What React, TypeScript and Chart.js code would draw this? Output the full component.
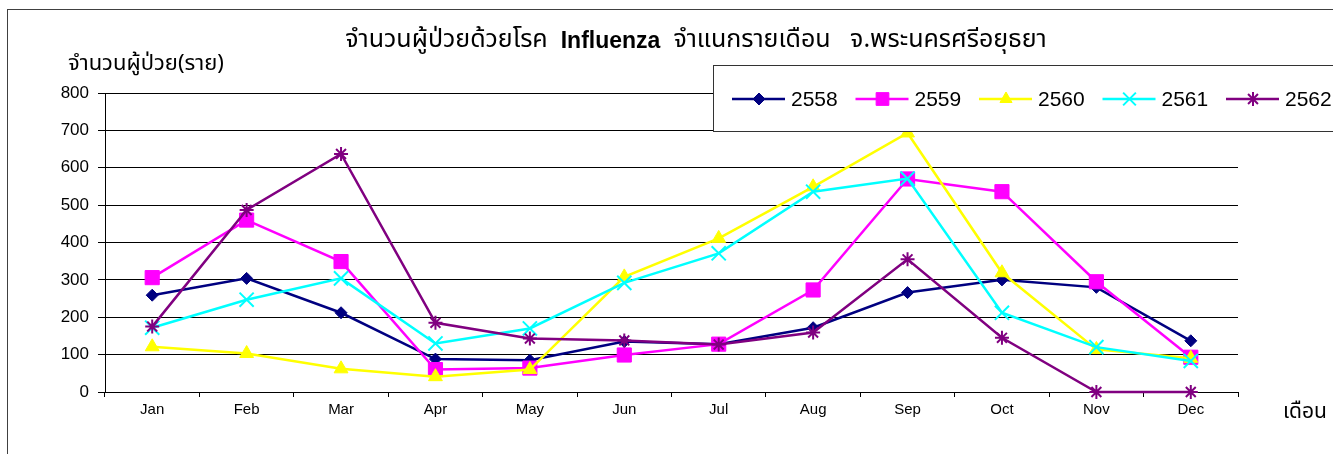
import React, { useEffect, useRef } from 'react';
import { Chart, registerables } from 'chart.js';
import { drawPoint } from 'chart.js/helpers';

Chart.register(...registerables);

// ---- data ----
const months = ['Jan', 'Feb', 'Mar', 'Apr', 'May', 'Jun', 'Jul', 'Aug', 'Sep', 'Oct', 'Nov', 'Dec'];
const seriesNames = ['2558', '2559', '2560', '2561', '2562'];
const cases2558 = [259, 304, 212, 88, 85, 135, 128, 172, 266, 300, 280, 137];
const cases2559 = [306, 460, 349, 60, 64, 99, 128, 273, 570, 536, 295, 93];
const cases2560 = [121, 103, 62, 41, 60, 308, 411, 549, 693, 319, 114, 90];
const cases2561 = [172, 247, 304, 130, 170, 292, 371, 536, 571, 212, 120, 83];
const cases2562 = [175, 487, 637, 185, 143, 138, 127, 159, 355, 145, 0, 0];
const yTickValues = [0, 100, 200, 300, 400, 500, 600, 700, 800];
const titleParts = [
  { text: 'จำนวนผู้ป่วยด้วยโรค  ', bold: false },
  { text: 'Influenza', bold: true },
  { text: '  จำแนกรายเดือน   จ.พระนครศรีอยุธยา', bold: false },
];
const yAxisTitle = 'จำนวนผู้ป่วย(ราย)';
const xAxisTitle = 'เดือน';

// ---- styles ----
const seriesColors = ['#000080', '#FF00FF', '#FFFF00', '#00FFFF', '#800080'];
const pointStyles = ['rectRot', 'rect', 'triangle', 'crossRot', 'star'];
const pointRadii = [6, 10, 8, 10, 7];
const pointBorderWidths = [1, 1, 1, 2, 2];
const legendRadii = [6, 9, 7, 9, 7];
const THAI = "'Noto Sans Thai', 'Noto Sans', Tahoma, 'DejaVu Sans', sans-serif";
const LATIN = "'Liberation Sans', Arial, sans-serif";

const decorPlugin = {
  id: 'decor',
  afterDraw(chart: any) {
    const ctx: CanvasRenderingContext2D = chart.ctx;
    ctx.save();
    // outer frame
    ctx.strokeStyle = '#404040';
    ctx.lineWidth = 1;
    ctx.strokeRect(7.5, 9.5, 3000, 3000);

    // title
    ctx.fillStyle = '#000';
    ctx.textBaseline = 'middle';
    const fonts = titleParts.map((p) => (p.bold ? `bold 23px ${LATIN}` : `25px ${THAI}`));
    let total = 0;
    const widths = titleParts.map((p, i) => {
      ctx.font = fonts[i];
      const w = ctx.measureText(p.text).width;
      total += w;
      return w;
    });
    let x = 696 - total / 2;
    titleParts.forEach((p, i) => {
      ctx.font = fonts[i];
      ctx.textAlign = 'left';
      ctx.fillText(p.text, x, 42);
      x += widths[i];
    });

    // axis titles
    ctx.font = `22px ${THAI}`;
    ctx.textAlign = 'left';
    ctx.fillText(yAxisTitle, 68, 66);
    ctx.font = `21px ${THAI}`;
    ctx.fillText(xAxisTitle, 1283, 414);

    // legend
    ctx.fillStyle = '#fff';
    ctx.fillRect(713.5, 65.5, 1000, 66);
    ctx.strokeStyle = '#333';
    ctx.lineWidth = 1;
    ctx.strokeRect(713.5, 65.5, 1000, 66);
    chart.data.datasets.forEach((ds: any, i: number) => {
      const x0 = 732 + i * 123.5;
      const y = 99;
      ctx.strokeStyle = ds.borderColor;
      ctx.lineWidth = 2.5;
      ctx.beginPath();
      ctx.moveTo(x0, y);
      ctx.lineTo(x0 + 53, y);
      ctx.stroke();
      ctx.fillStyle = ds.pointBackgroundColor;
      ctx.strokeStyle = ds.pointBorderColor;
      ctx.lineWidth = ds.pointBorderWidth;
      drawPoint(ctx, { pointStyle: ds.pointStyle, rotation: 0, radius: legendRadii[i], borderWidth: ds.pointBorderWidth }, x0 + 27, y);
      ctx.fillStyle = '#000';
      ctx.font = `21px ${LATIN}`;
      ctx.textAlign = 'left';
      ctx.textBaseline = 'middle';
      ctx.fillText(ds.label, x0 + 59, y + 1);
    });
    ctx.restore();
  },
};

export default function App() {
  const ref = useRef<HTMLCanvasElement | null>(null);
  useEffect(() => {
    if (!ref.current) return;
    const seriesData = [cases2558, cases2559, cases2560, cases2561, cases2562];
    const chart = new Chart(ref.current, {
      type: 'line',
      data: {
        labels: months,
        datasets: seriesNames.map((name, i) => ({
          label: name,
          data: seriesData[i],
          borderColor: seriesColors[i],
          backgroundColor: seriesColors[i],
          pointBackgroundColor: seriesColors[i],
          pointBorderColor: seriesColors[i],
          pointBorderWidth: pointBorderWidths[i],
          pointStyle: pointStyles[i],
          pointRadius: pointRadii[i],
          borderWidth: 2.5,
          tension: 0,
          fill: false,
          clip: false,
          order: seriesNames.length - i,
        })),
      },
      options: {
        animation: false,
        responsive: false,
        devicePixelRatio: 1,
        layout: { padding: { top: 93, left: 0, right: 95, bottom: 0 } },
        plugins: {
          legend: { display: false },
          title: { display: false },
          tooltip: { enabled: false },
        },
        scales: {
          x: {
            offset: true,
            afterFit: (s: any) => { s.height = 62; },
            grid: { display: true, drawOnChartArea: false, drawTicks: true, tickLength: 5, color: '#000', offset: true },
            border: { display: true, color: '#000', width: 1 },
            ticks: { color: '#000', font: { family: LATIN, size: 15 }, padding: 4 },
          },
          y: {
            min: 0,
            max: 800,
            afterFit: (s: any) => { s.width = 105; },
            afterBuildTicks: (s: any) => { s.ticks = yTickValues.map((v) => ({ value: v })); },
            grid: { color: '#000', lineWidth: 1, tickLength: 7 },
            border: { display: true, color: '#000', width: 1 },
            ticks: { color: '#000', font: { family: LATIN, size: 17 }, padding: 9 },
          },
        },
      },
      plugins: [decorPlugin],
    });
    return () => chart.destroy();
  }, []);
  return (
    <div style={{ position: 'fixed', left: 0, top: 0, width: 1333, height: 454, background: '#fff' }}>
      <canvas ref={ref} width={1333} height={454} style={{ display: 'block' }} />
    </div>
  );
}
